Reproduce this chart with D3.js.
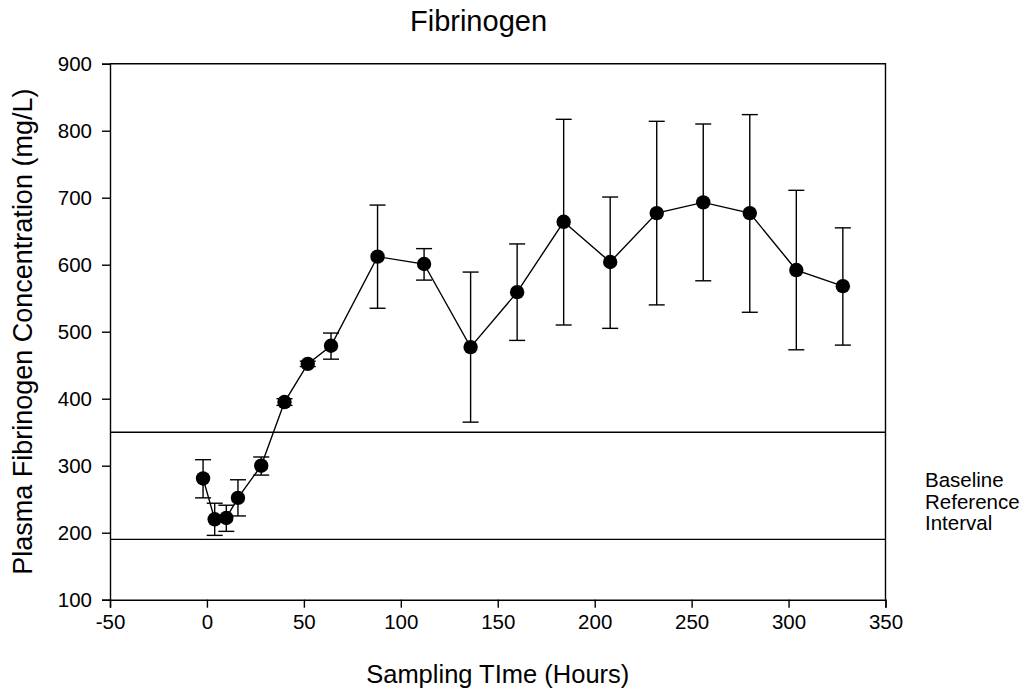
<!DOCTYPE html>
<html>
<head>
<meta charset="utf-8">
<script src="https://cdn.jsdelivr.net/npm/d3@7"></script>
<style>
  body { margin: 0; background: #fff; }
  svg text { font-family: "Liberation Sans", Arial, sans-serif; fill: #000; }
</style>
</head>
<body>
<div id="chart"></div>
<script>
// sampling times (hours) and fibrinogen (mg/L)
const hours = [-2, 4, 10, 16, 28, 40, 52, 64, 88, 112, 136, 160, 184, 208, 232, 256, 280, 304, 328];
const meanVals = [281, 220, 222, 252, 300, 395, 452, 479, 612, 601, 477, 559, 664, 604, 677, 693, 677, 592, 568];
const upperVals = [309, 244, 241, 279, 313, 400, 456, 498, 689, 624, 589, 631, 817, 701, 814, 810, 824, 711, 655];
const lowerVals = [252, 196, 202, 225, 286, 390, 448, 459, 535, 577, 365, 487, 510, 505, 540, 576, 529, 473, 480];
const refInterval = [190, 350];
const xTicks = [-50, 0, 50, 100, 150, 200, 250, 300, 350];
const yTicks = [100, 200, 300, 400, 500, 600, 700, 800, 900];

const width = 1028, height = 691;
const margin = { top: 63.7, right: 142.5, bottom: 91.3, left: 110 };

const svg = d3.select("#chart").append("svg")
    .attr("width", width)
    .attr("height", height);

const x = d3.scaleLinear().domain([-50, 350]).range([margin.left, width - margin.right]);
const y = d3.scaleLinear().domain([100, 900]).range([height - margin.bottom, margin.top]);

const data = hours.map((h, i) => ({ h, m: meanVals[i], lo: lowerVals[i], hi: upperVals[i] }));

// frame top + right
svg.append("path")
    .attr("d", `M${x(-50)},${y(900)}H${x(350)}V${y(100)}`)
    .attr("fill", "none")
    .attr("stroke", "#000")
    .attr("stroke-width", 1.4);

// reference interval lines
svg.selectAll("line.ref")
    .data(refInterval)
    .enter()
    .append("line")
    .attr("class", "ref")
    .attr("x1", x(-50))
    .attr("x2", x(350))
    .attr("y1", d => y(d))
    .attr("y2", d => y(d))
    .attr("stroke", "#000")
    .attr("stroke-width", 1.4);

// axes (plain hyphen for negatives, like the original)
const xAxis = svg.append("g")
    .attr("transform", `translate(0,${y(100)})`)
    .call(d3.axisBottom(x).tickValues(xTicks).tickSize(8).tickPadding(7).tickFormat(d => String(d)));
const yAxis = svg.append("g")
    .attr("transform", `translate(${x(-50)},0)`)
    .call(d3.axisLeft(y).tickValues(yTicks).tickSize(8).tickPadding(10).tickFormat(d => String(d)));

[xAxis, yAxis].forEach(g => {
    g.select(".domain").attr("stroke", "#000").attr("stroke-width", 1.4);
    g.selectAll(".tick line").attr("stroke", "#000").attr("stroke-width", 1.4);
    g.selectAll(".tick text")
        .attr("font-size", "20.5px")
        .style("font-family", "'Liberation Sans', Arial, sans-serif");
});

// error bars
const cap = 8;
const bars = svg.append("g").attr("stroke", "#000").attr("stroke-width", 1.4);
bars.selectAll("line.v")
    .data(data)
    .enter()
    .append("line")
    .attr("x1", d => x(d.h))
    .attr("x2", d => x(d.h))
    .attr("y1", d => y(d.lo))
    .attr("y2", d => y(d.hi));
bars.selectAll("line.top")
    .data(data)
    .enter()
    .append("line")
    .attr("x1", d => x(d.h) - cap)
    .attr("x2", d => x(d.h) + cap)
    .attr("y1", d => y(d.hi))
    .attr("y2", d => y(d.hi));
bars.selectAll("line.bot")
    .data(data)
    .enter()
    .append("line")
    .attr("x1", d => x(d.h) - cap)
    .attr("x2", d => x(d.h) + cap)
    .attr("y1", d => y(d.lo))
    .attr("y2", d => y(d.lo));

// connecting line
svg.append("path")
    .datum(data)
    .attr("fill", "none")
    .attr("stroke", "#000")
    .attr("stroke-width", 1.4)
    .attr("d", d3.line().x(d => x(d.h)).y(d => y(d.m)));

// markers
svg.selectAll("circle")
    .data(data)
    .enter()
    .append("circle")
    .attr("cx", d => x(d.h))
    .attr("cy", d => y(d.m))
    .attr("r", 7.2)
    .attr("fill", "#000");

// title
svg.append("text")
    .attr("x", 478.5)
    .attr("y", 31)
    .attr("text-anchor", "middle")
    .attr("font-size", "29px")
    .text("Fibrinogen");

// axis titles
svg.append("text")
    .attr("x", (x(-50) + x(350)) / 2)
    .attr("y", 683)
    .attr("text-anchor", "middle")
    .attr("font-size", "25.5px")
    .text("Sampling TIme (Hours)");

svg.append("text")
    .attr("transform", `translate(32,${(y(100) + y(900)) / 2}) rotate(-90)`)
    .attr("text-anchor", "middle")
    .attr("font-size", "27px")
    .text("Plasma Fibrinogen Concentration (mg/L)");

// annotation
const note = svg.append("text")
    .attr("x", 925)
    .attr("y", 487)
    .attr("font-size", "20.5px");
["Baseline", "Reference", "Interval"].forEach((t, i) => {
    note.append("tspan")
        .attr("x", 925)
        .attr("dy", i === 0 ? 0 : 21.7)
        .text(t);
});
</script>
</body>
</html>
